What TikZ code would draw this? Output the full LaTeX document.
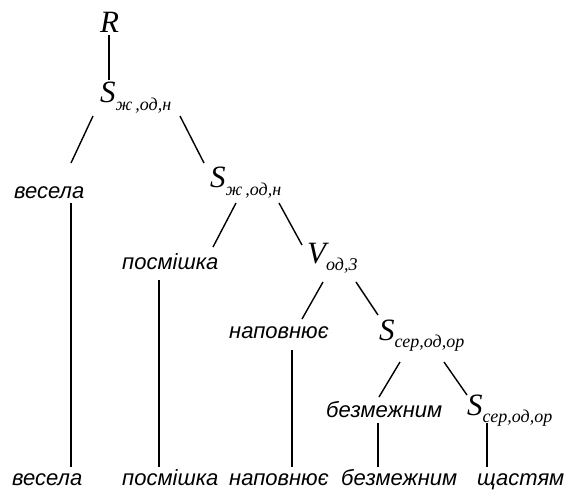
\documentclass[tikz,border=0pt]{standalone}
\usepackage{fontspec}
\setmainfont{Liberation Sans}
\newfontfamily\symfont{Liberation Serif}

% nonterminal: big letter with lowered index
\newcommand{\nterm}[3][7pt]{{\symfont\itshape\fontsize{31}{31}\selectfont #2}%
  \raisebox{-#1}{\symfont\itshape\fontsize{18}{18}\selectfont #3}}

\tikzset{
  word/.style={anchor=base west, inner sep=0pt, font=\fontsize{22}{22}\selectfont\itshape},
  sym/.style={anchor=base west, inner sep=0pt},
  edge/.style={black, line width=1.4pt}
}

\begin{document}
\begin{tikzpicture}[x=1pt, y=-1pt]
        \useasboundingbox (0,0) rectangle (565,491);

        % tree nodes
        \node[sym] (r)  at (100,32)  {\nterm{R}{}};
        \node[sym] (s1) at (100,102) {\nterm[8pt]{S}{ж\,,од,н}};
        \node[word] (ves1) at (14,198) {весела};
        \node[sym] (s2) at (210,187) {\nterm[8pt]{S}{ж\,,од,н}};
        \node[word] (pos1) at (122,269) {посмішка};
        \node[sym] (v)  at (307,263) {\nterm{V}{од,3}};
        \node[word] (nap1) at (229,338) {наповнює};
        \node[sym] (s3) at (379,340) {\nterm{S}{сер,од,ор}};
        \node[word] (bez1) at (326,417) {безмежним};
        \node[sym] (s4) at (467,415) {\nterm{S}{сер,од,ор}};

        % terminal row
        \node[word] (ves2) at (12,485)  {весела};
        \node[word] (pos2) at (122,485) {посмішка};
        \node[word] (nap2) at (229,485) {наповнює};
        \node[word] (bez2) at (341,485) {безмежним};
        \node[word] (shch) at (477,485) {щастям};

        % branches
        \draw[edge] ([shift={(9,3)}]r.base west) -- ([shift={(9,-22)}]s1.base west);
        \draw[edge] ([shift={(-7,14)}]s1.base west) -- ([shift={(57,-35)}]ves1.base west);
        \draw[edge] ([shift={(80,14)}]s1.base west) -- ([shift={(-6,-24)}]s2.base west);
        \draw[edge] ([shift={(57,5)}]ves1.base west) -- ([shift={(59,-18)}]ves2.base west);
        \draw[edge] ([shift={(26,16)}]s2.base west) -- ([shift={(91,-22)}]pos1.base west);
        \draw[edge] ([shift={(69,16)}]s2.base west) -- ([shift={(-5,-18)}]v.base west);
        \draw[edge] ([shift={(37,11)}]pos1.base west) -- ([shift={(37,-18)}]pos2.base west);
        \draw[edge] ([shift={(16,19)}]v.base west) -- ([shift={(73,-19)}]nap1.base west);
        \draw[edge] ([shift={(49,19)}]v.base west) -- ([shift={(-1,-25)}]s3.base west);
        \draw[edge] ([shift={(63,12)}]nap1.base west) -- ([shift={(63,-18)}]nap2.base west);
        \draw[edge] ([shift={(21,22)}]s3.base west) -- ([shift={(53,-20)}]bez1.base west);
        \draw[edge] ([shift={(65,22)}]s3.base west) -- ([shift={(0,-20)}]s4.base west);
        \draw[edge] ([shift={(52,6)}]bez1.base west) -- ([shift={(37,-18)}]bez2.base west);
        \draw[edge] ([shift={(20,8)}]s4.base west) -- ([shift={(10,-18)}]shch.base west);
    \end{tikzpicture}
\end{document}
